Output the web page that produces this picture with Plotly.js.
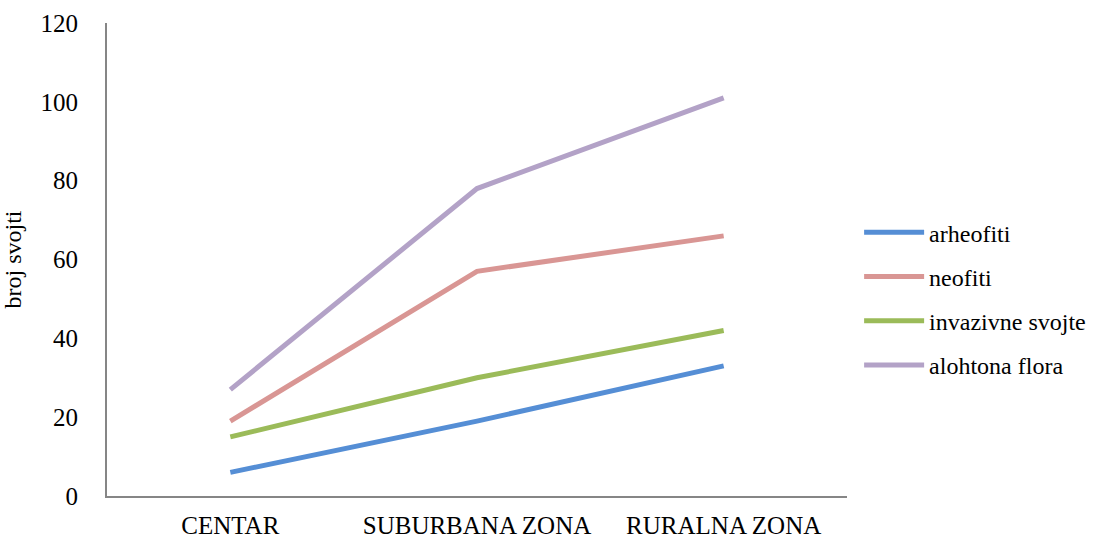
<!DOCTYPE html>
<html><head><meta charset="utf-8">
<script src="https://cdn.plot.ly/plotly-3.0.1.min.js"></script>
<style>html,body{margin:0;padding:0;background:#fff}#chart{width:1102px;height:539px}</style>
</head><body><div id="chart"></div>
<script>
const categories = ["CENTAR", "SUBURBANA ZONA", "RURALNA ZONA"];
const seriesNames = ["arheofiti", "neofiti", "invazivne svojte", "alohtona flora"];
const arheofiti = [6, 19, 33];
const neofiti = [19, 57, 66];
const invazivne = [15, 30, 42];
const alohtona = [27, 78, 101];
const yTicks = [0, 20, 40, 60, 80, 100, 120];
const colors = ["#558ED5", "#D99694", "#9BBB59", "#B3A2C7"];
const values = [arheofiti, neofiti, invazivne, alohtona];

const font = "'Liberation Serif', 'Times New Roman', Times, 'DejaVu Serif', serif";
const traces = values.map((v, i) => ({
  type: "scatter", mode: "lines", x: categories, y: v, name: seriesNames[i],
  legendgroup: "g" + i,
  line: {color: colors[i], width: 5}
}));

const layout = {
  width: 1102, height: 539,
  margin: {l: 107, r: 254, t: 23, b: 43},
  paper_bgcolor: "#fff", plot_bgcolor: "#fff",
  font: {family: font, size: 24, color: "#000"},
  showlegend: true,
  legend: {x: 1.015, xanchor: "left", y: 0.417, yanchor: "middle",
    font: {family: font, size: 24, color: "#000"},
    tracegroupgap: 10, itemwidth: 60, bgcolor: "rgba(0,0,0,0)"},
  xaxis: {type: "category", range: [-0.5, 2.5], showgrid: false, zeroline: false,
    showline: true, linecolor: "#868686", linewidth: 2,
    ticks: "", ticklabelstandoff: 6,
    tickfont: {family: font, size: 25, color: "#000"}},
  yaxis: {range: [0, 120], tickvals: yTicks, showgrid: false, zeroline: false,
    showline: true, linecolor: "#868686", linewidth: 2,
    ticks: "", ticklabelstandoff: 22,
    tickfont: {family: font, size: 25, color: "#000"},
    title: {text: "broj svojti", font: {family: font, size: 24, color: "#000"}, standoff: 14}}
};

Plotly.newPlot("chart", traces, layout, {displayModeBar: false, staticPlot: true});
</script></body></html>
